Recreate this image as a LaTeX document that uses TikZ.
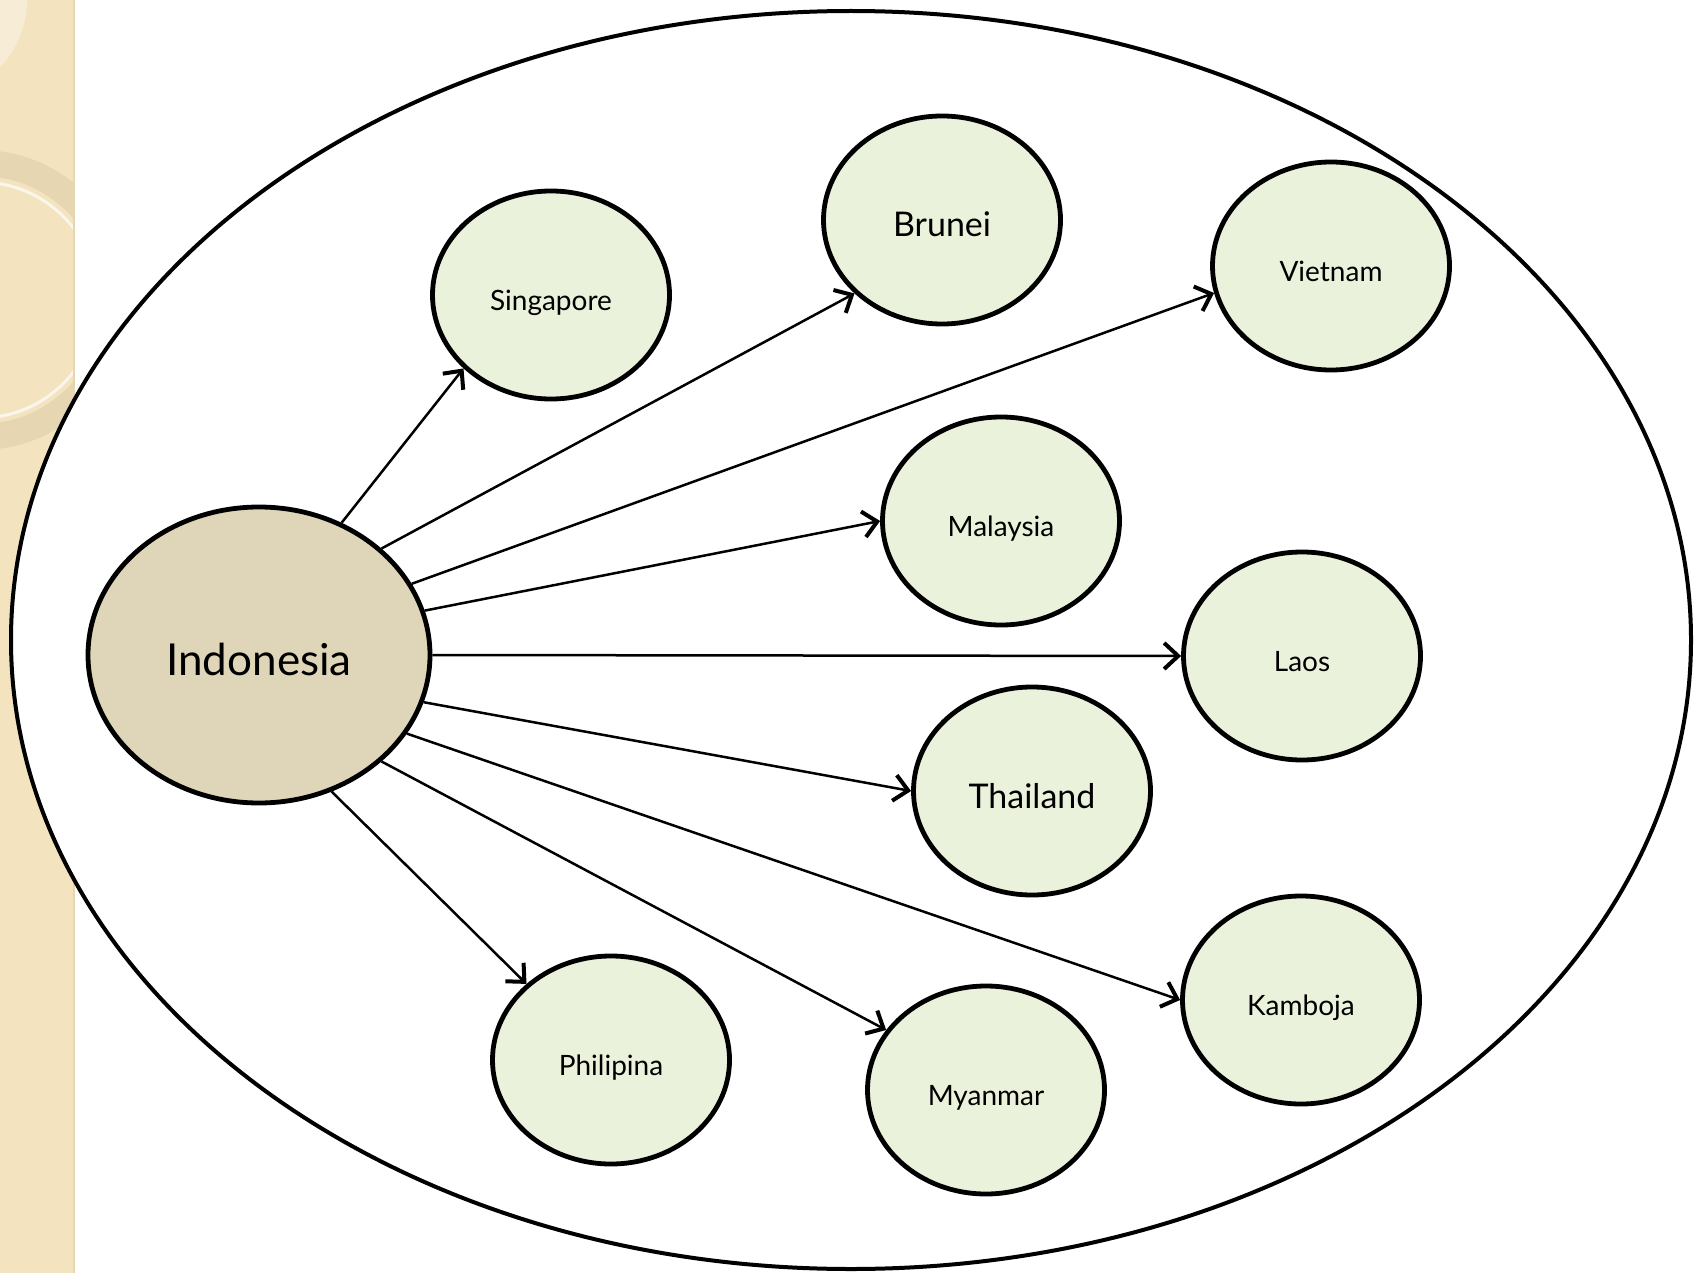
\documentclass[tikz,border=0pt]{standalone}
\usepackage{fontspec}
\setmainfont{Lato}
\usetikzlibrary{shapes.geometric,arrows.meta}
\definecolor{hubfill}{HTML}{DFD5B9}
\definecolor{leaffill}{HTML}{EBF2DC}
\definecolor{stripfill}{HTML}{F3E3BF}
\definecolor{stripring}{HTML}{E6D6B2}

\begin{document}
\begin{tikzpicture}[x=1pt, y=-1pt,
  country/.style = {shape=ellipse, draw, line width=4.8pt, fill=leaffill,
    minimum width=237pt, minimum height=208pt, inner sep=0pt,
    text height=30pt, text depth=0pt,
    font=\fontsize{28}{32}\selectfont},
  bigger/.style = {text height=34pt, font=\fontsize{34}{38}\selectfont},
  hub/.style = {country, fill=hubfill,
    minimum width=342pt, minimum height=296pt,
    text height=41pt, font=\fontsize{44}{50}\selectfont},
  link/.style = {line width=2.5pt,
    -{Straight Barb[length=14pt,width=26pt,line width=4pt]}}]
  \useasboundingbox (0,0) rectangle (1694,1273);

  % slide strip on the left
  \fill[stripfill] (0,0) rectangle (74,1273);
  \begin{scope}
    \clip (0,0) rectangle (74,1273);
    \fill[white, opacity=0.35] (-70,0) circle (97);
    \draw[stripring, line width=26pt] (-20,300) circle (137);
    \draw[white, opacity=0.7, line width=3pt] (-20,300) circle (118);
  \end{scope}
  \draw[stripring, line width=2pt] (74,0) -- (74,1273);

  % outer frame
  \draw[line width=4pt, fill=white] (851,640) ellipse (840 and 629);

  \node[hub] (indo) at (259,655) {Indonesia};
  \node[country] (sing) at (551,295) {Singapore};
  \node[country, bigger] (brun) at (942,220) {Brunei};
  \node[country] (viet) at (1331,266) {Vietnam};
  \node[country] (mala) at (1001,521) {Malaysia};
  \node[country] (laos) at (1302,656) {Laos};
  \node[country, bigger] (thai) at (1032,791) {Thailand};
  \node[country] (kamb) at (1301,1000) {Kamboja};
  \node[country] (phil) at (611,1060) {Philipina};
  \node[country] (myan) at (986,1090) {Myanmar};

  \draw[link] (indo.58.7) -- (sing.220.6);
  \draw[link] (indo.41) -- (brun.220.8);
  \draw[link] (indo.25.3) -- (viet.193.2);
  \draw[link] (indo.15.1) -- (mala.180);
  \draw[link] (indo.0) -- (laos.180);
  \draw[link] (indo.-16) -- (thai.180);
  \draw[link] (indo.-28.4) -- (kamb.180);
  \draw[link] (indo.-41) -- (myan.149.8);
  \draw[link] (indo.-62.9) -- (phil.138.5);
\end{tikzpicture}
\end{document}
